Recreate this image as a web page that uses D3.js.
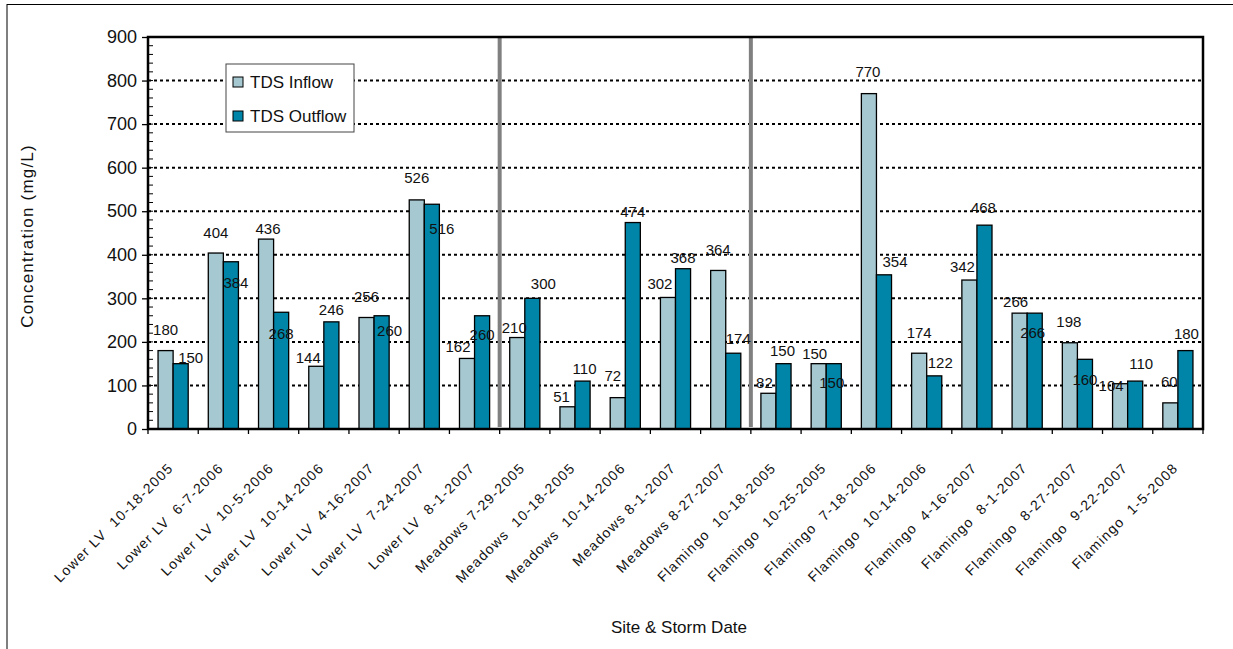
<!DOCTYPE html>
<html>
<head>
<meta charset="utf-8">
<script src="https://cdn.jsdelivr.net/npm/d3@7"></script>
<style>
  body { margin: 0; background: #fff; }
  text { font-family: "Liberation Sans", Arial, sans-serif; fill: #111; }
</style>
</head>
<body>
<div id="chart"></div>
<script>
// storm events, grouped by site
var sites = ["Lower LV", "Lower LV", "Lower LV", "Lower LV", "Lower LV", "Lower LV", "Lower LV",
    "Meadows", "Meadows", "Meadows", "Meadows", "Meadows",
    "Flamingo", "Flamingo", "Flamingo", "Flamingo", "Flamingo", "Flamingo", "Flamingo", "Flamingo", "Flamingo"];
var dates = ["  10-18-2005", "  6-7-2006", "  10-5-2006", "  10-14-2006", "  4-16-2007", "  7-24-2007", "  8-1-2007",
    " 7-29-2005", "  10-18-2005", "  10-14-2006", " 8-1-2007", " 8-27-2007",
    "  10-18-2005", "  10-25-2005", "  7-18-2006", "  10-14-2006", "  4-16-2007", "  8-1-2007", "  8-27-2007", "  9-22-2007", "  1-5-2008"];
var seriesNames = ["TDS Inflow", "TDS Outflow"];
var tdsInflow = [180, 404, 436, 144, 256, 526, 162, 210, 51, 72, 302, 364, 82, 150, 770, 174, 342, 266, 198, 104, 60];
var tdsOutflow = [150, 384, 268, 246, 260, 516, 260, 300, 110, 474, 368, 174, 150, 150, 354, 122, 468, 266, 160, 110, 180];
var yTicks = [0, 100, 200, 300, 400, 500, 600, 700, 800, 900];

// hand placed data labels in the original, [dx, dy] from bar top centre
var nudgeIn = [[0,-21],[0,-21],[2,-11],[-8,-9],[0,-21],[0,-22],[-9,-12],[-3,-10],[-6,-10],[-5,-22],[-8,-14],
    [0,-21],[-4,-11],[-4,-10],[-1,-22],[0,-21],[-7,-14],[-4,-12],[-1,-21],[-9,2],[-1,-21]];
var nudgeOut = [[10,-6],[5,21],[0,21],[0,-12],[8,15],[10,24],[0,19],[11,-15],[2,-13],[0,-11],[0,-11],
    [5,-15],[-1,-13],[-2,19],[11,-13],[6,-13],[-1,-18],[-2,19],[0,20],[6,-18],[1,-17]];

var width = 1233, height = 649;
var margin = {top: 37, right: 30, bottom: 220, left: 148};
var plotW = width - margin.left - margin.right,
    plotH = height - margin.top - margin.bottom;
var colors = ["#a6c8d1", "#0085a8"];

var svg = d3.select("#chart").append("svg")
    .attr("width", width)
    .attr("height", height);

// outer chart border
svg.append("rect")
    .attr("x", 7).attr("y", 4.5)
    .attr("width", 1240).attr("height", 700)
    .attr("fill", "none").attr("stroke", "#000").attr("stroke-width", 1);

var g = svg.append("g")
    .attr("transform", "translate(" + margin.left + "," + margin.top + ")");

var x0 = d3.scaleBand()
    .domain(d3.range(dates.length))
    .range([0, plotW])
    .paddingInner(0.4)
    .paddingOuter(0.2);
var x1 = d3.scaleBand()
    .domain([0, 1])
    .range([0, x0.bandwidth()]);
var y = d3.scaleLinear()
    .domain([0, 900])
    .range([plotH, 0]);

// dotted gridlines
g.selectAll(".grid")
    .data(yTicks.slice(1))
    .enter().append("line")
    .attr("class", "grid")
    .attr("x1", 0).attr("x2", plotW)
    .attr("y1", function (d) { return y(d); })
    .attr("y2", function (d) { return y(d); })
    .attr("stroke", "#000")
    .attr("stroke-width", 2)
    .attr("stroke-dasharray", "3,3");

// gray separators between sites
var sepIdx = [7, 12];
g.selectAll(".sep")
    .data(sepIdx)
    .enter().append("line")
    .attr("class", "sep")
    .attr("x1", function (d) { return d * x0.step(); })
    .attr("x2", function (d) { return d * x0.step(); })
    .attr("y1", -1).attr("y2", plotH - 2)
    .attr("stroke", "#808080")
    .attr("stroke-width", 4);

// bars
var series = [tdsInflow, tdsOutflow];
series.forEach(function (vals, s) {
    g.selectAll(".bar" + s)
        .data(vals)
        .enter().append("rect")
        .attr("class", "bar" + s)
        .attr("x", function (d, i) { return x0(i) + x1(s); })
        .attr("y", function (d) { return y(d); })
        .attr("width", x1.bandwidth())
        .attr("height", function (d) { return plotH - y(d); })
        .attr("fill", colors[s])
        .attr("stroke", "#000")
        .attr("stroke-width", 1.3);
});

// data labels
var nudges = [nudgeIn, nudgeOut];
series.forEach(function (vals, s) {
    g.selectAll(".lab" + s)
        .data(vals)
        .enter().append("text")
        .attr("class", "lab" + s)
        .attr("x", function (d, i) { return x0(i) + x1(s) + x1.bandwidth() / 2 + nudges[s][i][0]; })
        .attr("y", function (d, i) { return y(d) + nudges[s][i][1] + 5.5; })
        .attr("text-anchor", "middle")
        .style("font-size", "15px")
        .text(function (d) { return d; });
});

// y axis
var yAxis = g.append("g")
    .call(d3.axisLeft(y).tickValues(yTicks).tickSize(6).tickPadding(5));
yAxis.select(".domain").remove();
yAxis.selectAll(".tick line").attr("stroke", "#000").attr("stroke-width", 1.3);
yAxis.selectAll("text").style("font-size", "18px").attr("fill", "#111");

// minor ticks inside
g.selectAll(".minor")
    .data(y.ticks(45))
    .enter().append("line")
    .attr("class", "minor")
    .attr("x1", 0).attr("x2", 5)
    .attr("y1", function (d) { return y(d); })
    .attr("y2", function (d) { return y(d); })
    .attr("stroke", "#000").attr("stroke-width", 1);

// x axis ticks at category boundaries
g.selectAll(".xtick")
    .data(d3.range(dates.length + 1))
    .enter().append("line")
    .attr("class", "xtick")
    .attr("x1", function (d) { return d * x0.step(); })
    .attr("x2", function (d) { return d * x0.step(); })
    .attr("y1", plotH).attr("y2", plotH + 5)
    .attr("stroke", "#000").attr("stroke-width", 1.3);

// x labels
g.selectAll(".xlab")
    .data(dates)
    .enter().append("text")
    .attr("class", "xlab")
    .attr("transform", function (d, i) {
        return "translate(" + (x0(i) + x0.bandwidth() / 2 + 1) + "," + (plotH + 40) + ") rotate(-45)";
    })
    .attr("text-anchor", "end")
    .style("font-size", "14px")
    .style("letter-spacing", "1.2px")
    .style("white-space", "pre")
    .text(function (d, i) { return sites[i] + d; });

// plot frame
g.append("rect")
    .attr("x", 0).attr("y", 0)
    .attr("width", plotW).attr("height", plotH)
    .attr("fill", "none")
    .attr("stroke", "#000")
    .attr("stroke-width", 2.5);

// axis titles
svg.append("text")
    .attr("transform", "translate(33,236) rotate(-90)")
    .attr("text-anchor", "middle")
    .style("font-size", "17px")
    .style("letter-spacing", "1.2px")
    .text("Concentration (mg/L)");

svg.append("text")
    .attr("x", 679).attr("y", 633)
    .attr("text-anchor", "middle")
    .style("font-size", "17px")
    .text("Site & Storm Date");

// legend
var legend = svg.append("g").attr("transform", "translate(226,64)");
legend.append("rect")
    .attr("width", 128).attr("height", 68)
    .attr("fill", "#fff")
    .attr("stroke", "#444").attr("stroke-width", 1);
legend.selectAll(".key")
    .data(seriesNames)
    .enter().append("rect")
    .attr("class", "key")
    .attr("x", 7).attr("y", function (d, i) { return 13 + i * 34; })
    .attr("width", 10).attr("height", 10)
    .attr("fill", function (d, i) { return colors[i]; })
    .attr("stroke", "#000").attr("stroke-width", 1);
legend.selectAll(".ktext")
    .data(seriesNames)
    .enter().append("text")
    .attr("class", "ktext")
    .attr("x", 24).attr("y", function (d, i) { return 24 + i * 34; })
    .style("font-size", "17px")
    .text(function (d) { return d; });
</script>
</body>
</html>
